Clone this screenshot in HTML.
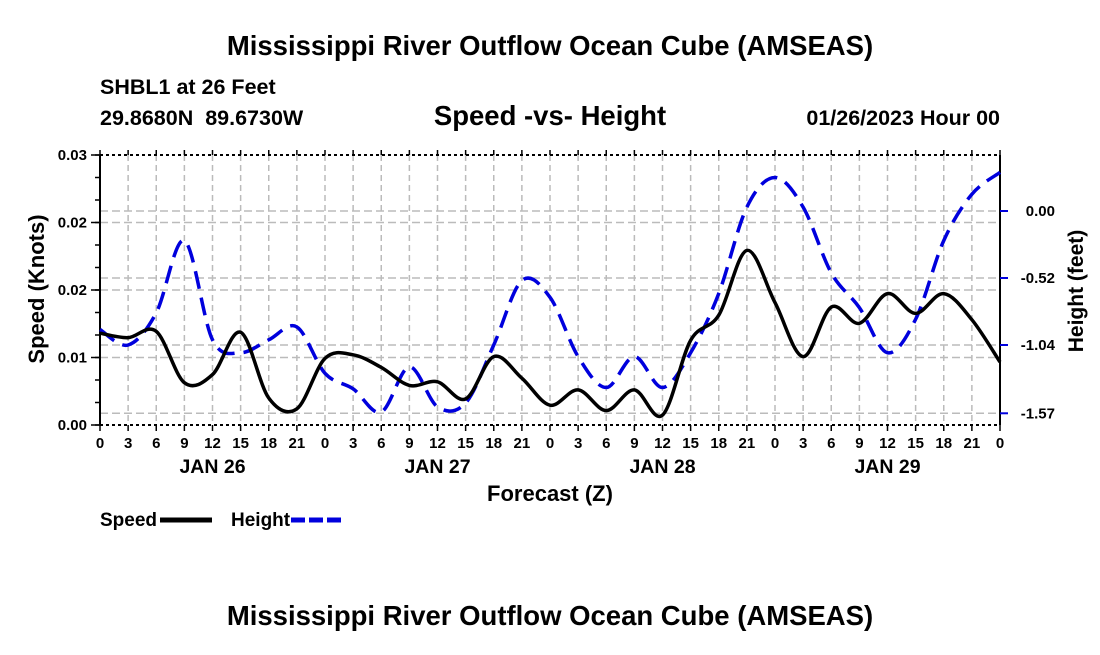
<!DOCTYPE html>
<html><head><meta charset="utf-8"><style>
body{margin:0;background:#fff;}
svg text{font-family:"Liberation Sans",sans-serif;font-weight:bold;fill:#000;white-space:pre;}
</style></head><body>
<svg id="chart" width="1100" height="650" xmlns="http://www.w3.org/2000/svg">
<text x="550" y="55" font-size="27.5" text-anchor="middle">Mississippi River Outflow Ocean Cube (AMSEAS)</text>
<text x="100" y="94" font-size="21.5">SHBL1 at 26 Feet</text>
<text x="100" y="125" font-size="21.5" xml:space="preserve">29.8680N  89.6730W</text>
<text x="550" y="125" font-size="27.5" text-anchor="middle">Speed -vs- Height</text>
<text x="1000" y="125" font-size="21.5" text-anchor="end">01/26/2023 Hour 00</text>
<g id="grid"></g><g id="axes"></g><g id="series"></g>
<text x="550" y="501" font-size="22" text-anchor="middle">Forecast (Z)</text>
<text transform="translate(44,289) rotate(-90)" font-size="22" text-anchor="middle">Speed (Knots)</text>
<text transform="translate(1083,291) rotate(-90)" font-size="21" text-anchor="middle">Height (feet)</text>
<g>
<text x="100" y="526" font-size="19">Speed</text>
<line x1="160" y1="520" x2="212" y2="520" stroke="#000" stroke-width="5"/>
<text x="231" y="526" font-size="19">Height</text>
<line x1="291" y1="520" x2="343" y2="520" stroke="#0000dd" stroke-width="5" stroke-dasharray="14,4"/>
</g>
<text x="550" y="625" font-size="27.5" text-anchor="middle">Mississippi River Outflow Ocean Cube (AMSEAS)</text>
</svg>
<script>
const hours=[0,3,6,9,12,15,18,21,24,27,30,33,36,39,42,45,48,51,54,57,60,63,66,69,72,75,78,81,84,87,90,93,96];
const speed=[0.0102,0.0097,0.0104,0.0047,0.0056,0.0103,0.0030,0.0018,0.0074,0.0078,0.0064,0.0044,0.0048,0.0029,0.0076,0.0052,0.0022,0.0039,0.0016,0.0039,0.0011,0.0094,0.0122,0.0194,0.0136,0.0076,0.0131,0.0113,0.0146,0.0124,0.0146,0.0117,0.0070];
const height=[-0.92,-1.04,-0.79,-0.23,-1.00,-1.10,-1.00,-0.90,-1.26,-1.38,-1.56,-1.21,-1.52,-1.49,-1.04,-0.54,-0.67,-1.13,-1.37,-1.13,-1.37,-1.10,-0.64,0.03,0.26,0.03,-0.48,-0.75,-1.10,-0.84,-0.23,0.13,0.30];
const leftTicks=[0,0.0075,0.015,0.0225,0.03];
const leftTickLabels=["0.00","0.01","0.02","0.02","0.03"];
const rightTicks=[0.00,-0.52,-1.04,-1.57];
const rightTickLabels=["0.00","-0.52","-1.04","-1.57"];
const dayLabels=["JAN 26","JAN 27","JAN 28","JAN 29"];
const X0=100,X1=1000,Y0=155,Y1=425;
const xs=h=>X0+(h/96)*(X1-X0);
const yL=v=>Y1-(v/0.03)*(Y1-Y0);
const yR=v=>211-(v/0.52)*67;
const NS="http://www.w3.org/2000/svg";
function mk(parent,tag,attrs){const e=document.createElementNS(NS,tag);for(const k in attrs)e.setAttribute(k,attrs[k]);document.getElementById(parent).appendChild(e);return e;}
for(let h=3;h<96;h+=3){const e=mk('grid','line',{x1:xs(h),x2:xs(h),y1:Y0,y2:Y1,stroke:'#bbb','stroke-width':1.5,'stroke-dasharray':'6,4'});

}
leftTicks.slice(1,4).forEach(v=>{const e=mk('grid','line',{x1:X0,x2:X1,y1:yL(v),y2:yL(v),stroke:'#bbb','stroke-width':1.5,'stroke-dasharray':'8,4'});

});
rightTicks.forEach(v=>{const e=mk('grid','line',{x1:X0,x2:X1,y1:yR(v),y2:yR(v),stroke:'#bbb','stroke-width':1.5,'stroke-dasharray':'8,4'});

});
let f=mk('axes','line',{x1:X0,x2:X0,y1:Y0,y2:Y1,stroke:'#000','stroke-width':2});

f=mk('axes','line',{x1:X1,x2:X1,y1:Y0,y2:Y1,stroke:'#000','stroke-width':2});

f=mk('axes','line',{x1:X0,x2:X1,y1:Y0,y2:Y0,stroke:'#000','stroke-width':2,'stroke-dasharray':'3,3'});

f=mk('axes','line',{x1:X0,x2:X1,y1:Y1,y2:Y1,stroke:'#000','stroke-width':2,'stroke-dasharray':'3,3'});

for(let h=0;h<=96;h+=3){
 mk('axes','line',{x1:xs(h),x2:xs(h),y1:Y1,y2:Y1+6,stroke:'#000','stroke-width':1.5});
 mk('axes','line',{x1:xs(h),x2:xs(h),y1:Y0,y2:Y0-5,stroke:'#000','stroke-width':1.5});
 const t=mk('axes','text',{x:xs(h),y:448,'font-size':15,'text-anchor':'middle'});
 t.textContent=String(h%24);
 
 
}
dayLabels.forEach((d,i)=>{const t=mk('axes','text',{x:xs(i*24+12),y:473,'font-size':19.5,'text-anchor':'middle'});t.textContent=d;

});
for(let v=0;v<=0.03001;v+=0.0025){mk('axes','line',{x1:X0-5,x2:X0,y1:yL(v),y2:yL(v),stroke:'#000','stroke-width':1.5});}
leftTicks.forEach((v,i)=>{mk('axes','line',{x1:X0-9,x2:X0,y1:yL(v),y2:yL(v),stroke:'#000','stroke-width':1.5});
const t=mk('axes','text',{x:X0-13,y:yL(v)+5,'font-size':15,'text-anchor':'end'});t.textContent=leftTickLabels[i];

});
rightTicks.forEach((v,i)=>{mk('axes','line',{x1:X1,x2:X1+8,y1:yR(v),y2:yR(v),stroke:'#0000dd','stroke-width':2});
const t=mk('axes','text',{x:1055,y:yR(v)+5,'font-size':15,'text-anchor':'end'});t.textContent=rightTickLabels[i];

});
function smooth(pts){let d=`M${pts[0][0]},${pts[0][1]}`;for(let i=0;i<pts.length-1;i++){const p0=pts[Math.max(i-1,0)],p1=pts[i],p2=pts[i+1],p3=pts[Math.min(i+2,pts.length-1)];
d+=` C${p1[0]+(p2[0]-p0[0])/6},${p1[1]+(p2[1]-p0[1])/6} ${p2[0]-(p3[0]-p1[0])/6},${p2[1]-(p3[1]-p1[1])/6} ${p2[0]},${p2[1]}`;}return d;}
const hp=mk('series','path',{d:smooth(hours.map((h,i)=>[xs(h),yR(height[i])])),fill:'none',stroke:'#0000dd','stroke-width':3.5,'stroke-dasharray':'18,9'});


const sp=mk('series','path',{d:smooth(hours.map((h,i)=>[xs(h),yL(speed[i])])),fill:'none',stroke:'#000','stroke-width':3.5});


</script>
</body></html>
